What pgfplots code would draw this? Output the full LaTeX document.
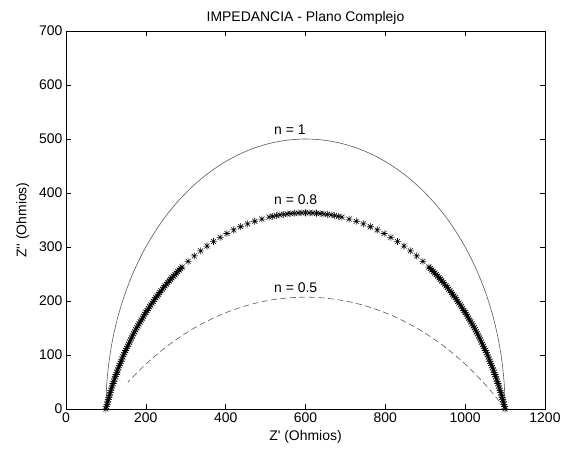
\documentclass[border=0pt]{standalone}
\usepackage{pgfplots}
\pgfplotsset{compat=1.18}
\usepackage{fontspec}
\setmainfont{Liberation Sans}
\pgfdeclareplotmark{mstar}{%
  \pgfpathmoveto{\pgfqpoint{\pgfplotmarksize}{0pt}}\pgfpathlineto{\pgfqpoint{-\pgfplotmarksize}{0pt}}%
  \pgfpathmoveto{\pgfqpoint{0pt}{\pgfplotmarksize}}\pgfpathlineto{\pgfqpoint{0pt}{-\pgfplotmarksize}}%
  \pgfpathmoveto{\pgfqpoint{0.707\pgfplotmarksize}{0.707\pgfplotmarksize}}\pgfpathlineto{\pgfqpoint{-0.707\pgfplotmarksize}{-0.707\pgfplotmarksize}}%
  \pgfpathmoveto{\pgfqpoint{-0.707\pgfplotmarksize}{0.707\pgfplotmarksize}}\pgfpathlineto{\pgfqpoint{0.707\pgfplotmarksize}{-0.707\pgfplotmarksize}}%
  \pgfusepathqstroke}
\begin{document}
\begin{tikzpicture}
\path[use as bounding box] (-66bp,-42bp) rectangle (498bp,409bp);
\begin{axis}[
  at={(0,0)}, anchor=south west,
  scale only axis, width=479bp, height=378bp,
  xmin=0, xmax=1200, ymin=0, ymax=700,
  xtick={0,200,...,1200}, ytick={0,100,...,700},
  tick align=inside, major tick length=5bp,
  xtick pos=both, ytick pos=both,
  /pgf/number format/assume math mode=true,
  /pgf/number format/1000 sep={},
  tick label style={font=\fontsize{14}{16}\selectfont},
  label style={font=\fontsize{14}{16}\selectfont},
  xlabel style={yshift=-1bp},
  ylabel style={yshift=3bp},
  title style={font=\fontsize{14}{16}\selectfont, yshift=-3bp},
  title={IMPEDANCIA - Plano Complejo},
  xlabel={Z\textquotesingle{} (Ohmios)},
  ylabel={Z\textquotesingle\textquotesingle{} (Ohmios)},
  axis line style={line width=0.6pt},
  every tick/.style={black, line width=0.6pt},
]
% n = 1
\addplot[black!65, line width=0.6pt, smooth] coordinates {
(1100,0) (1098.1,43.6) (1092.4,86.8) (1083.0,129.4) (1069.9,171.0) (1053.2,211.3) (1033.0,250) (1009.6,286.8) (983.0,321.4) (953.6,353.6) (921.4,383.0) (886.8,409.6) (850,433.0) (811.3,453.2) (771.0,469.9) (729.4,483.0) (686.8,492.4) (643.6,498.1) (600,500)
(556.4,498.1) (513.2,492.4) (470.6,483.0) (429.0,469.9) (388.7,453.2) (350,433.0) (313.2,409.6) (278.6,383.0) (246.4,353.6) (217.0,321.4) (190.4,286.8) (167.0,250) (146.8,211.3) (130.1,171.0) (117.0,129.4) (107.6,86.8) (101.9,43.6) (100,0)
};
% n = 0.8
\addplot[black, only marks, mark=mstar, mark size=3.5bp, mark options={line width=0.55pt}] coordinates {
(1100.0,0.0) (1098.6,4.4) (1097.1,8.7) (1095.6,13.0) (1094.0,17.4) (1092.4,21.7) (1090.8,25.9) (1089.1,30.2) (1087.4,34.5) (1085.7,38.7) (1083.9,43.0) (1082.1,47.2) (1080.3,51.4) (1078.4,55.6) (1076.5,59.7) (1074.5,63.9) (1072.5,68.0) (1070.5,72.1) (1068.4,76.2) (1066.3,80.3) (1064.2,84.4) (1062.0,88.4) (1059.8,92.4) (1057.6,96.4) (1055.3,100.4) (1050.6,108.3) (1045.8,116.1) (1040.9,123.9) (1035.8,131.5) (1030.6,139.1) (1025.3,146.6) (1019.9,153.9) (1014.3,161.2) (1008.6,168.4) (1002.7,175.5) (996.8,182.4) (990.7,189.3) (984.5,196.1) (978.2,202.7) (971.7,209.3) (965.2,215.7) (958.5,222.0) (951.8,228.2) (944.9,234.3) (937.9,240.3) (930.8,246.1) (923.7,251.8) (916.4,257.4) (909.0,262.9) (894.0,273.4) (878.6,283.4) (862.9,292.8) (846.8,301.7) (830.5,310.1) (813.8,317.8) (796.9,325.0) (779.8,331.6) (762.5,337.5) (744.9,342.9) (727.2,347.7) (709.3,351.8) (691.3,355.3) (682.2,356.8) (673.2,358.2) (664.1,359.4) (655.0,360.4) (645.8,361.3) (636.7,362.0) (627.5,362.6) (618.3,363.0) (609.2,363.2) (600.0,363.3)
(590.8,363.2) (581.7,363.0) (572.5,362.6) (563.3,362.0) (554.2,361.3) (545.0,360.4) (535.9,359.4) (526.8,358.2) (517.8,356.8) (508.7,355.3) (490.7,351.8) (472.8,347.7) (455.1,342.9) (437.5,337.5) (420.2,331.6) (403.1,325.0) (386.2,317.8) (369.5,310.1) (353.2,301.7) (337.1,292.8) (321.4,283.4) (306.0,273.4) (291.0,262.9) (283.6,257.4) (276.3,251.8) (269.2,246.1) (262.1,240.3) (255.1,234.3) (248.2,228.2) (241.5,222.0) (234.8,215.7) (228.3,209.3) (221.8,202.7) (215.5,196.1) (209.3,189.3) (203.2,182.4) (197.3,175.5) (191.4,168.4) (185.7,161.2) (180.1,153.9) (174.7,146.6) (169.4,139.1) (164.2,131.5) (159.1,123.9) (154.2,116.1) (149.4,108.3) (144.7,100.4) (142.4,96.4) (140.2,92.4) (138.0,88.4) (135.8,84.4) (133.7,80.3) (131.6,76.2) (129.5,72.1) (127.5,68.0) (125.5,63.9) (123.5,59.7) (121.6,55.6) (119.7,51.4) (117.9,47.2) (116.1,43.0) (114.3,38.7) (112.6,34.5) (110.9,30.2) (109.2,25.9) (107.6,21.7) (106.0,17.4) (104.4,13.0) (102.9,8.7) (101.4,4.4) (100.0,0.0)
(1053.0,104.4) (1048.3,112.2) (1043.4,120.0) (1038.4,127.7) (1033.3,135.3) (1028.0,142.8) (1022.6,150.3) (1017.1,157.6) (1011.4,164.8) (1005.7,171.9) (999.8,179.0) (993.8,185.9) (987.6,192.7) (981.3,199.4) (975.0,206.0) (968.5,212.5) (961.9,218.9) (955.2,225.2) (948.4,231.3) (941.4,237.3) (934.4,243.2) (927.3,249.0) (920.0,254.6) (912.7,260.2)
(147.0,104.4) (151.7,112.2) (156.6,120.0) (161.6,127.7) (166.7,135.3) (172.0,142.8) (177.4,150.3) (182.9,157.6) (188.6,164.8) (194.3,171.9) (200.2,179.0) (206.2,185.9) (212.4,192.7) (218.7,199.4) (225.0,206.0) (231.5,212.5) (238.1,218.9) (244.8,225.2) (251.6,231.3) (258.6,237.3) (265.6,243.2) (272.7,249.0) (280.0,254.6) (287.3,260.2)
};
% n = 0.5
\addplot[black!65, line width=0.6pt, dash pattern=on 6bp off 3.5bp, smooth] coordinates {
(1100.0,0) (1073.2,25.5) (1045.0,49.5) (1015.6,72.1) (985.1,93.0) (953.6,112.4) (921.0,130.0) (887.6,146.0) (853.4,160.1) (818.5,172.5) (783.0,183.0) (747.0,191.7) (710.6,198.4) (673.9,203.2) (637.0,206.1) (600,207.1)
(563.0,206.1) (526.1,203.2) (489.4,198.4) (453.0,191.7) (417.0,183.0) (381.5,172.5) (346.6,160.1) (312.4,146.0) (279.0,130.0) (246.4,112.4) (214.9,93.0) (184.4,72.1) (155.0,49.5)
};
\node[anchor=west, font=\fontsize{14}{16}\selectfont, inner sep=0pt] at (axis cs:521,518) {n = 1};
\node[anchor=west, font=\fontsize{14}{16}\selectfont, inner sep=0pt] at (axis cs:521,387) {n = 0.8};
\node[anchor=west, font=\fontsize{14}{16}\selectfont, inner sep=0pt] at (axis cs:521,225) {n = 0.5};
\end{axis}
\end{tikzpicture}
\end{document}
